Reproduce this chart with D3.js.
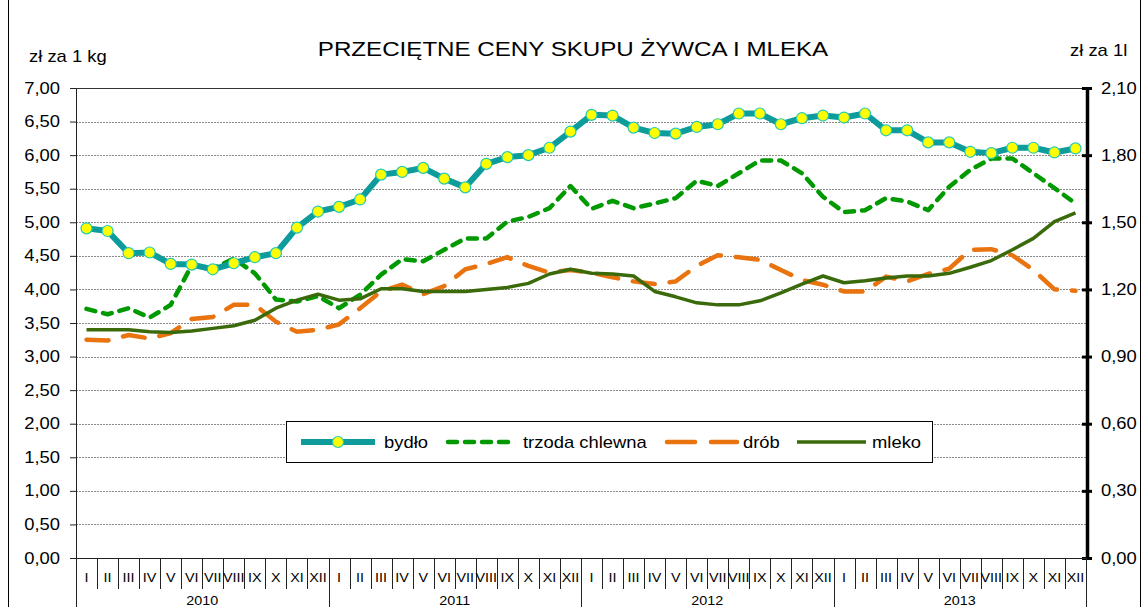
<!DOCTYPE html>
<html><head><meta charset="utf-8">
<script src="https://cdn.jsdelivr.net/npm/d3@7"></script>
<style>
body{margin:0;background:#fff}
svg{display:block}
text{font-family:"Liberation Sans",Arial,sans-serif;fill:#000}
</style>
</head><body>
<svg id="c" width="1142" height="607"></svg>
<script>
// ---------- data ----------
const months = ["I","II","III","IV","V","VI","VII","VIII","IX","X","XI","XII"];
const years = ["2010","2011","2012","2013"];
const leftTicks = [0,0.5,1,1.5,2,2.5,3,3.5,4,4.5,5,5.5,6,6.5,7];
const rightTicks = [0,0.3,0.6,0.9,1.2,1.5,1.8,2.1];
const seriesNames = ["bydło","trzoda chlewna","drób","mleko"];

// zł za 1 kg (left axis)
const bydlo = [4.91,4.87,4.54,4.55,4.38,4.37,4.30,4.39,4.48,4.54,4.92,5.16,
               5.23,5.34,5.71,5.75,5.81,5.65,5.52,5.87,5.97,6.00,6.11,6.35,
               6.60,6.59,6.41,6.33,6.32,6.42,6.46,6.62,6.62,6.46,6.55,6.59,
               6.56,6.62,6.37,6.37,6.19,6.19,6.05,6.03,6.11,6.11,6.04,6.10];
const trzoda = [3.71,3.63,3.72,3.58,3.77,4.36,4.31,4.46,4.24,3.85,3.82,3.90,
                3.72,3.92,4.22,4.45,4.42,4.59,4.76,4.76,5.01,5.08,5.21,5.54,
                5.20,5.32,5.21,5.28,5.36,5.62,5.54,5.73,5.92,5.92,5.73,5.38,
                5.15,5.18,5.36,5.31,5.18,5.53,5.78,5.95,5.95,5.73,5.51,5.28];
const drob = [3.25,3.24,3.32,3.27,3.35,3.56,3.59,3.77,3.77,3.52,3.37,3.40,
              3.48,3.72,3.97,4.07,3.93,4.05,4.30,4.38,4.48,4.35,4.25,4.29,
              4.25,4.18,4.12,4.08,4.12,4.35,4.51,4.48,4.44,4.29,4.14,4.07,
              3.97,3.97,4.19,4.12,4.23,4.31,4.59,4.60,4.51,4.29,4.00,3.98];
// zł za 1 l (right axis)
const mleko = [1.020,1.020,1.020,1.011,1.008,1.014,1.026,1.038,1.062,1.116,1.152,1.179,
               1.152,1.158,1.203,1.203,1.191,1.191,1.191,1.200,1.209,1.227,1.269,1.290,
               1.272,1.269,1.260,1.191,1.167,1.140,1.131,1.131,1.149,1.185,1.224,1.260,
               1.230,1.239,1.251,1.260,1.260,1.272,1.299,1.329,1.377,1.428,1.503,1.542];

// ---------- layout ----------
const M = {left:76, right:1086, top:88, bottom:558};
const SX = 1.15;
const fmt = d => d3.format(".2f")(d).replace(".", ",");
const svg = d3.select("#c");

function txt(g, x, y, s, size, anchor){
  return g.append("text")
    .attr("transform", `translate(${x},${y}) scale(${SX},1)`)
    .attr("text-anchor", anchor || "start")
    .attr("font-size", size)
    .text(s);
}

const N = years.length * months.length;
const x = d3.scaleBand().domain(d3.range(N)).range([M.left, M.right]).paddingInner(0).paddingOuter(0);
const cx = i => x(i) + x.bandwidth()/2;
const yL = d3.scaleLinear().domain([0,7]).range([M.bottom, M.top]);
const yR = d3.scaleLinear().domain([0,2.1]).range([M.bottom, M.top]);

// outer frame
svg.append("line").attr("x1",8.5).attr("x2",8.5).attr("y1",0).attr("y2",607).attr("stroke","#000").attr("stroke-width",1);
svg.append("line").attr("x1",1140.5).attr("x2",1140.5).attr("y1",0).attr("y2",607).attr("stroke","#000").attr("stroke-width",1);

// gridlines
svg.append("g").selectAll("line").data(leftTicks.filter(t => t>0)).join("line")
  .attr("x1", M.left).attr("x2", M.right)
  .attr("y1", d => Math.round(yL(d))+0.5).attr("y2", d => Math.round(yL(d))+0.5)
  .attr("stroke", d => d===7 ? "#333" : "#8a8a8a")
  .attr("stroke-width", 1)
  .attr("stroke-dasharray", d => d===7 ? null : "2,1");

// left axis
const gL = svg.append("g").attr("transform", `translate(${M.left},0)`)
  .call(d3.axisLeft(yL).tickValues(leftTicks).tickSize(6).tickSizeOuter(0).tickFormat(fmt));
gL.select(".domain").attr("stroke","#222");
gL.selectAll(".tick line").attr("stroke","#222");
gL.selectAll(".tick text").attr("font-size",16).attr("font-family",'"Liberation Sans",Arial,sans-serif')
  .attr("x", -16/SX).attr("transform", `scale(${SX},1)`).attr("fill","#000");

// right axis
const gR = svg.append("g").attr("transform", `translate(${M.right+1},0)`)
  .call(d3.axisRight(yR).tickValues(rightTicks).tickSize(5).tickSizeOuter(0).tickFormat(fmt));
gR.select(".domain").attr("stroke","#000").attr("stroke-width",3.5);
gR.selectAll(".tick line").attr("stroke","#000").attr("stroke-width",3).attr("x1",-5);
gR.selectAll(".tick text").attr("font-size",16).attr("font-family",'"Liberation Sans",Arial,sans-serif')
  .attr("x", 14/SX).attr("transform", `scale(${SX},1)`).attr("fill","#000");

// category axis
const gX = svg.append("g");
gX.append("line").attr("x1", M.left).attr("x2", M.right+1).attr("y1", M.bottom+0.5).attr("y2", M.bottom+0.5).attr("stroke","#222");
gX.selectAll("line.sep").data(d3.range(N+1)).join("line").attr("class","sep")
  .attr("x1", k => Math.round(k===N ? M.right : x(k))+0.5)
  .attr("x2", k => Math.round(k===N ? M.right : x(k))+0.5)
  .attr("y1", M.bottom)
  .attr("y2", k => k % months.length === 0 ? 607 : 589)
  .attr("stroke","#222").attr("stroke-width",1);
d3.range(N).forEach(i => {
  txt(gX, cx(i), 582, months[i % months.length], 12.5, "middle");
});
years.forEach((yv, j) => {
  const a = x(j*months.length), b = j===years.length-1 ? M.right : x((j+1)*months.length);
  txt(gX, (a+b)/2, 605, yv, 12.5, "middle");
});

// series
const line = d3.line().x((d,i) => cx(i));
const plot = svg.append("g");
plot.append("path").datum(drob)
  .attr("d", line.y(d => yL(d)))
  .attr("fill","none").attr("stroke","#E8730F").attr("stroke-width",4.5)
  .attr("stroke-dasharray","22,15").attr("stroke-linecap","round");
plot.append("path").datum(trzoda)
  .attr("d", line.y(d => yL(d)))
  .attr("fill","none").attr("stroke","#009900").attr("stroke-width",4.5)
  .attr("stroke-dasharray","9,8").attr("stroke-linecap","round").attr("stroke-linejoin","round");
plot.append("path").datum(mleko)
  .attr("d", line.y(d => yR(d)))
  .attr("fill","none").attr("stroke","#3A6A0A").attr("stroke-width",3.5).attr("stroke-linejoin","round");
plot.append("path").datum(bydlo)
  .attr("d", line.y(d => yL(d)))
  .attr("fill","none").attr("stroke","#0E9B9B").attr("stroke-width",6).attr("stroke-linejoin","round");
plot.selectAll("circle").data(bydlo).join("circle")
  .attr("cx", (d,i) => cx(i)).attr("cy", d => yL(d)).attr("r",5.5)
  .attr("fill","#FFFF00").attr("stroke","#22C9B5").attr("stroke-width",1.2);

// legend
const lg = svg.append("g");
lg.append("rect").attr("x",286.5).attr("y",421.5).attr("width",646).attr("height",41)
  .attr("fill","#fff").attr("stroke","#000").attr("stroke-width",1);
const ly = 442;
lg.append("line").attr("x1",301).attr("x2",375).attr("y1",ly).attr("y2",ly).attr("stroke","#0E9B9B").attr("stroke-width",6);
lg.append("circle").attr("cx",338).attr("cy",ly).attr("r",5.5).attr("fill","#FFFF00").attr("stroke","#22C9B5").attr("stroke-width",1.2);
txt(lg, 384, ly+6, seriesNames[0], 16);
lg.append("line").attr("x1",448).attr("x2",512).attr("y1",ly).attr("y2",ly).attr("stroke","#009900").attr("stroke-width",4.5)
  .attr("stroke-dasharray","9,8").attr("stroke-linecap","round");
txt(lg, 523, ly+6, seriesNames[1], 16);
lg.append("line").attr("x1",667).attr("x2",737).attr("y1",ly).attr("y2",ly).attr("stroke","#E8730F").attr("stroke-width",4.5)
  .attr("stroke-dasharray","28,16").attr("stroke-linecap","round");
txt(lg, 743, ly+6, seriesNames[2], 16);
lg.append("line").attr("x1",797).attr("x2",866).attr("y1",ly).attr("y2",ly).attr("stroke","#3A6A0A").attr("stroke-width",3.5);
txt(lg, 872, ly+6, seriesNames[3], 16);

// titles
txt(svg, 573, 56, "PRZECIĘTNE CENY SKUPU ŻYWCA I MLEKA", 21, "middle");
txt(svg, 29, 62, "zł za 1 kg", 16);
txt(svg, 1070, 56, "zł za 1l", 16);
</script>
</body></html>
